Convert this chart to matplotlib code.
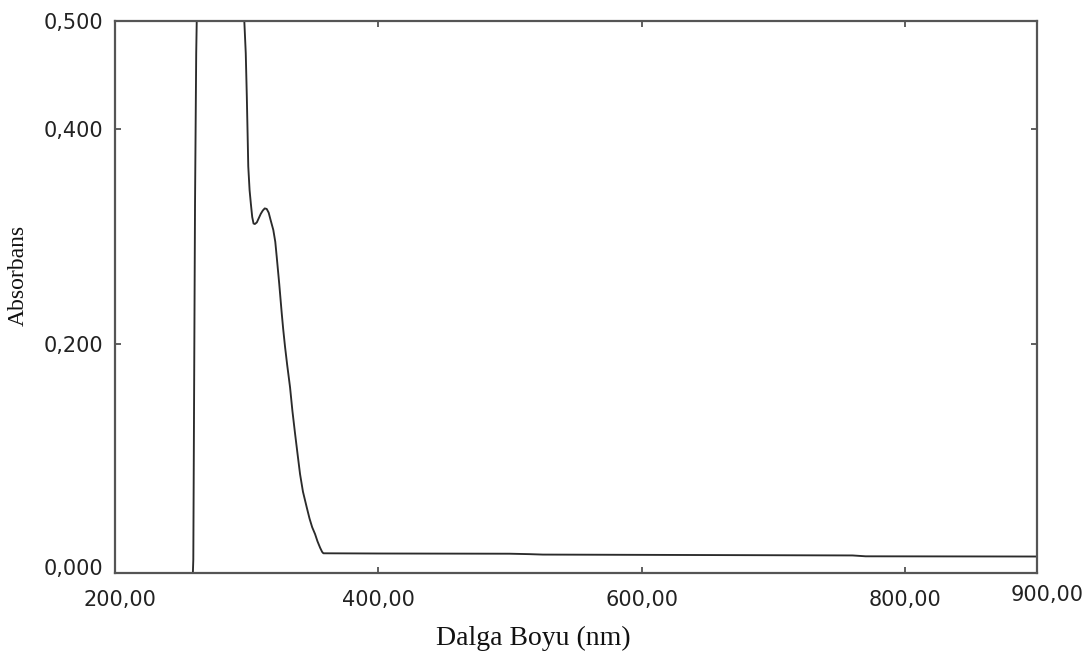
import matplotlib
matplotlib.use("Agg")
import matplotlib.pyplot as plt
import matplotlib.transforms as mtransforms

# Absorption spectrum (wavelength in nm, absorbance)
wavelength = [258.5, 259.8, 261.1, 262.0, 262.4, 263.0, 270.0, 280.0, 290.0,
              297.0, 298.5, 299.6, 300.4, 301.0, 301.5, 302.5, 303.5, 304.5,
              305.5, 306.5, 308.0, 309.5, 311.0, 312.5, 314.0, 315.5, 317.0,
              318.5, 320.5, 322.0, 323.1, 325.0, 326.9, 328.0, 329.4, 331.0,
              333.2, 335.0, 337.0, 339.0, 340.8, 343.0, 345.9, 348.0, 350.0,
              352.2, 354.0, 356.0, 357.5, 358.5, 400.0, 500.0, 515.0, 525.0,
              640.0, 760.0, 770.0, 900.0]
absorbance = [-0.05, 0.000, 0.330, 0.470, 0.500, 0.560, 0.900, 1.200, 0.900,
              0.560, 0.500, 0.470, 0.430, 0.395, 0.365, 0.343, 0.330, 0.318,
              0.312, 0.3115, 0.313, 0.317, 0.321, 0.324, 0.326, 0.3255, 0.322,
              0.315, 0.306, 0.295, 0.281, 0.256, 0.2286, 0.214, 0.1976, 0.181,
              0.160, 0.138, 0.117, 0.097, 0.0793, 0.063, 0.0483, 0.038, 0.030,
              0.0236, 0.017, 0.011, 0.0072, 0.0058, 0.0056, 0.0054, 0.0050, 0.0046,
              0.0042, 0.0038, 0.0030, 0.0028]

x_ticks = [200, 400, 600, 800, 900]
x_tick_labels = ["200,00", "400,00", "600,00", "800,00", "900,00"]
y_ticks = [0.0, 0.2, 0.4, 0.5]
y_tick_labels = ["0,000", "0,200", "0,400", "0,500"]

W, H = 1089, 653
fig = plt.figure(figsize=(W / 100, H / 100), dpi=100)
ax = fig.add_axes([114.5 / W, 1 - 573 / H, (1037 - 114.5) / W, (573 - 21) / H])

ax.plot(wavelength, absorbance, color="#2b2b2b", linewidth=1.35)

ax.set_xlim(200, 900)
ax.set_ylim(-0.0125, 0.5)

ax.set_xticks(x_ticks)
ax.set_xticklabels(x_tick_labels)
ax.set_yticks(y_ticks)
ax.set_yticklabels(y_tick_labels)

for side in ax.spines.values():
    side.set_color("#555555")
    side.set_linewidth(1.6)

ax.tick_params(axis="both", direction="in", length=4, width=1.2, color="#444444",
               top=True, right=True, labelsize=15, labelcolor="#222222")
ax.tick_params(axis="x", pad=12)
ax.tick_params(axis="y", pad=8)

# no tick marks at the zero line or at the axis ends
for t in [ax.yaxis.get_major_ticks()[0], ax.xaxis.get_major_ticks()[0]]:
    t.tick1line.set_visible(False)
    t.tick2line.set_visible(False)

for lab in ax.get_xticklabels() + ax.get_yticklabels():
    lab.set_fontfamily("DejaVu Sans")

# small label nudges
def nudge(label, dx, dy):
    off = mtransforms.ScaledTranslation(dx / 100, dy / 100, fig.dpi_scale_trans)
    label.set_transform(label.get_transform() + off)

xl = ax.get_xticklabels()
nudge(xl[0], 5, 0)
nudge(xl[-1], 10, 5)
yl = ax.get_yticklabels()
nudge(yl[0], 0, -7)

fig.text(18 / W, 1 - 275 / H, "Absorbans", rotation=90, ha="center", va="center",
         fontsize=17, family="Liberation Serif", color="#111111")
fig.text(533 / W, 1 - 638 / H, "Dalga Boyu (nm)", ha="center", va="center",
         fontsize=20, family="Liberation Serif", color="#111111")

fig.savefig("out.png", dpi=100, facecolor="white")
